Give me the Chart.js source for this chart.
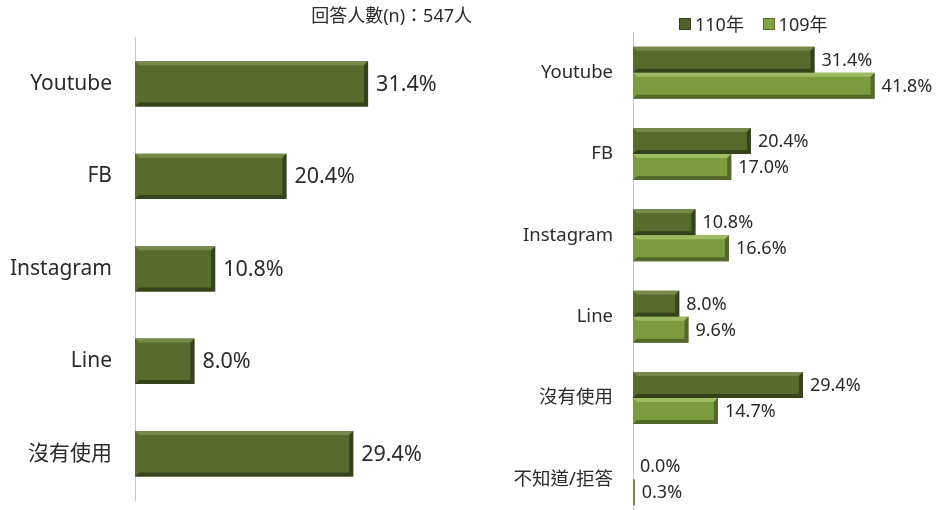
<!DOCTYPE html>
<html>
<head>
<meta charset="utf-8">
<script src="https://cdn.jsdelivr.net/npm/chart.js@4/dist/chart.umd.min.js"></script>
<style>
    body { margin: 0; width: 939px; height: 510px; overflow: hidden; background: #fff; position: relative; }
    #leftChart { position: absolute; left: 0; top: 0; }
    #rightChart { position: absolute; left: 480px; top: 0; }
    #legend { position: absolute; left: 679px; top: 12px; font: 18px "Noto Sans", "Noto Sans CJK TC", sans-serif; line-height: 24px; color: #2b2b2b; white-space: nowrap; }
    #legend span.box { display: inline-block; width: 10px; height: 10px; margin-right: 4px; vertical-align: 1px; }
</style>
</head>
<body>
<canvas id="leftChart" width="480" height="510"></canvas>
<canvas id="rightChart" width="459" height="530"></canvas>
<div id="legend"><span class="box" style="background:#4f6127;border:1px solid #33401a"></span>110年&nbsp;&nbsp;&nbsp;&nbsp;<span class="box" style="background:#7fa13f;border:1px solid #55702a"></span>109年</div>
<script>
const leftCategories = ['Youtube', 'FB', 'Instagram', 'Line', '沒有使用'];
const leftValues = [31.4, 20.4, 10.8, 8.0, 29.4];

const rightCategories = ['Youtube', 'FB', 'Instagram', 'Line', '沒有使用', '不知道/拒答'];
const values110 = [31.4, 20.4, 10.8, 8.0, 29.4, 0.0];
const values109 = [41.8, 17.0, 16.6, 9.6, 14.7, 0.3];

const fontFamily = '"Noto Sans", "Noto Sans CJK TC", sans-serif';
const textColor = '#2b2b2b';

// colours: fill, light top edge, dark edge
const darkGreen = ['#586a2c', '#76894a', '#35421a'];
const lightGreen = ['#7b9c3d', '#9cbb62', '#52692a'];

// draws the bevel edges on every bar
const bevelPlugin = {
    id: 'bevel',
    afterDatasetsDraw(chart) {
        const ctx = chart.ctx;
        chart.data.datasets.forEach((ds, i) => {
            const meta = chart.getDatasetMeta(i);
            const cols = ds.bevel;
            meta.data.forEach(bar => {
                const p = bar.getProps(['x', 'y', 'base', 'height']);
                const x0 = p.base, x1 = p.x;
                const top = p.y - p.height / 2, bottom = p.y + p.height / 2;
                const w = x1 - x0;
                if (w < 1) return;
                const b = Math.min(4, w / 2);
                ctx.save();
                // top edge
                ctx.fillStyle = cols[1];
                ctx.beginPath();
                ctx.moveTo(x0, top); ctx.lineTo(x1, top);
                ctx.lineTo(x1 - b, top + b); ctx.lineTo(x0 + b, top + b);
                ctx.closePath(); ctx.fill();
                // bottom edge
                ctx.fillStyle = cols[2];
                ctx.beginPath();
                ctx.moveTo(x0, bottom); ctx.lineTo(x1, bottom);
                ctx.lineTo(x1 - b, bottom - b); ctx.lineTo(x0 + b, bottom - b);
                ctx.closePath(); ctx.fill();
                // right edge
                ctx.beginPath();
                ctx.moveTo(x1, top); ctx.lineTo(x1, bottom);
                ctx.lineTo(x1 - b, bottom - b); ctx.lineTo(x1 - b, top + b);
                ctx.closePath(); ctx.fill();
                ctx.restore();
            });
        });
    }
};

// value labels at the end of the bars
const valueLabelPlugin = {
    id: 'valueLabels',
    afterDatasetsDraw(chart, args, opts) {
        const ctx = chart.ctx;
        ctx.save();
        ctx.font = opts.size + 'px ' + fontFamily;
        ctx.fillStyle = textColor;
        ctx.textBaseline = 'middle';
        ctx.textAlign = 'left';
        chart.data.datasets.forEach((ds, i) => {
            const meta = chart.getDatasetMeta(i);
            meta.data.forEach((bar, j) => {
                ctx.fillText(ds.data[j].toFixed(1) + '%', bar.x + opts.gap, bar.y + 1);
            });
        });
        ctx.restore();
    }
};

// keep the category axis from adding padding above/below the plot
function fixAxis(width) {
    return function(scale) {
        scale.width = width;
        scale.paddingTop = 0;
        scale.paddingBottom = 0;
    };
}

new Chart(document.getElementById('leftChart').getContext('2d'), {
    type: 'bar',
    data: {
        labels: leftCategories,
        datasets: [{
            data: leftValues,
            backgroundColor: darkGreen[0],
            borderWidth: 0,
            bevel: darkGreen,
            barPercentage: 0.98,
            categoryPercentage: 0.5
        }]
    },
    options: {
        indexAxis: 'y',
        responsive: false,
        animation: false,
        devicePixelRatio: 1,
        layout: { padding: { top: 0, bottom: 10, right: 8, left: 0 } },
        plugins: {
            legend: { display: false },
            tooltip: { enabled: false },
            title: {
                display: true,
                text: '回答人數(n)：547人',
                align: 'end',
                color: textColor,
                font: { family: fontFamily, size: 18, weight: 'normal' },
                padding: { top: 6, bottom: 10 }
            },
            valueLabels: { size: 21.5, gap: 8 }
        },
        scales: {
            x: { display: false, min: 0, max: 45.4 },
            y: {
                grid: { display: false, drawTicks: false },
                border: { display: true, color: '#c8c8c8', width: 1 },
                ticks: { color: textColor, padding: 23, font: { family: fontFamily, size: 21 } },
                afterFit: fixAxis(135)
            }
        }
    },
    plugins: [bevelPlugin, valueLabelPlugin]
});

new Chart(document.getElementById('rightChart').getContext('2d'), {
    type: 'bar',
    data: {
        labels: rightCategories,
        datasets: [{
            label: '110年',
            data: values110,
            backgroundColor: darkGreen[0],
            borderWidth: 0,
            bevel: darkGreen,
            barPercentage: 1,
            categoryPercentage: 0.64
        }, {
            label: '109年',
            data: values109,
            backgroundColor: lightGreen[0],
            borderWidth: 0,
            bevel: lightGreen,
            barPercentage: 1,
            categoryPercentage: 0.64
        }]
    },
    options: {
        indexAxis: 'y',
        responsive: false,
        animation: false,
        devicePixelRatio: 1,
        layout: { padding: { top: 32, bottom: 10, right: 17, left: 0 } },
        plugins: {
            legend: { display: false },
            tooltip: { enabled: false },
            valueLabels: { size: 18, gap: 7 }
        },
        scales: {
            x: { display: false, min: 0, max: 50 },
            y: {
                grid: { display: false, drawTicks: false },
                border: { display: true, color: '#c8c8c8', width: 1 },
                ticks: { color: textColor, padding: 20, font: { family: fontFamily, size: 18.5 } },
                afterFit: fixAxis(153)
            }
        }
    },
    plugins: [bevelPlugin, valueLabelPlugin]
});
</script>
</body>
</html>
